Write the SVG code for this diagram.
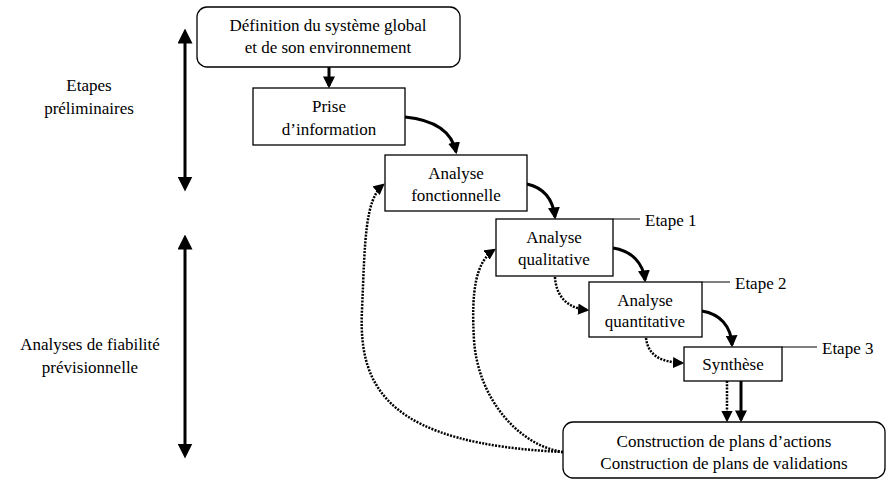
<svg xmlns="http://www.w3.org/2000/svg" width="891" height="482" viewBox="0 0 891 482">
<style>
text{font-family:'Liberation Serif','Times New Roman','DejaVu Serif',serif;font-size:17px;fill:#000;}
.c{text-anchor:middle;}
.box{fill:#fff;stroke:#000;stroke-width:1.3;}
.solid{fill:none;stroke:#000;stroke-width:3;}
.dot{fill:none;stroke:#000;stroke-width:2.5;stroke-dasharray:2 1.3;}
.thin{stroke:#000;stroke-width:1;}
</style>
<defs>
<marker id="ah" viewBox="0 0 10 10" refX="8" refY="5" markerWidth="4" markerHeight="4" orient="auto" markerUnits="strokeWidth"><path d="M0,0 L10,5 L0,10 z" fill="#000"/></marker>
<marker id="ahd" viewBox="0 0 10 10" refX="8" refY="5" markerWidth="4.5" markerHeight="4.5" orient="auto" markerUnits="strokeWidth"><path d="M0,0 L10,5 L0,10 z" fill="#000"/></marker>
<marker id="ahs" viewBox="0 0 10 10" refX="5" refY="5" markerWidth="5" markerHeight="5" orient="auto-start-reverse" markerUnits="strokeWidth"><path d="M0,0 L10,5 L0,10 z" fill="#000"/></marker>
</defs>
<g id="phases">
<line x1="185" y1="36" x2="185" y2="184" class="solid" marker-start="url(#ahs)" marker-end="url(#ahs)"/>
<text x="89" y="91" class="c">Etapes</text>
<text x="89" y="114" class="c">préliminaires</text>
<line x1="185" y1="242" x2="185" y2="451" class="solid" marker-start="url(#ahs)" marker-end="url(#ahs)"/>
<text x="90" y="350" class="c">Analyses de fiabilité</text>
<text x="90" y="373" class="c">prévisionnelle</text>
</g>
<g id="connectors">
<line x1="329" y1="67" x2="329" y2="86" class="solid" marker-end="url(#ah)"/>
<path d="M405,117 C435,120 452,132 456,152" class="solid" marker-end="url(#ah)"/>
<path d="M527,184 C545,188 553,200 555,217" class="solid" marker-end="url(#ah)"/>
<path d="M613,248 C632,251 643,263 645,280" class="solid" marker-end="url(#ah)"/>
<path d="M702,311 C720,314 731,326 732,345" class="solid" marker-end="url(#ah)"/>
<line x1="741" y1="381" x2="741" y2="420" class="solid" marker-end="url(#ah)"/>
<line x1="727" y1="381" x2="727" y2="420" class="dot" marker-end="url(#ahd)"/>
<path d="M555,277 C556,296 567,308 587,310" class="dot" marker-end="url(#ahd)"/>
<path d="M646,338 C648,355 660,362 682,363" class="dot" marker-end="url(#ahd)"/>
<path d="M563,452 C390,444 358,390 362,310 C365,240 365,200 383,185" class="dot" marker-end="url(#ahd)"/>
<path d="M563,452 C520,446 478,400 474,340 C471,290 476,262 494,250" class="dot" marker-end="url(#ahd)"/>
<line x1="613" y1="219" x2="640" y2="219" class="thin"/>
<line x1="702" y1="282" x2="730" y2="282" class="thin"/>
<line x1="782" y1="347" x2="817" y2="347" class="thin"/>
</g>
<g id="n-definition">
<rect x="197" y="7" width="263" height="60" rx="10" class="box"/>
<text x="328" y="31" class="c">Définition du système global</text>
<text x="328" y="53" class="c">et de son environnement</text>
</g>
<g id="n-prise">
<rect x="253" y="88" width="152" height="57" class="box"/>
<text x="329" y="112" class="c">Prise</text>
<text x="329" y="135" class="c">d’information</text>
</g>
<g id="n-af">
<rect x="385" y="155" width="142" height="56" class="box"/>
<text x="456" y="179" class="c">Analyse</text>
<text x="456" y="201" class="c">fonctionnelle</text>
</g>
<g id="n-aq">
<rect x="496" y="219" width="117" height="57" class="box"/>
<text x="554" y="243" class="c">Analyse</text>
<text x="554" y="265" class="c">qualitative</text>
<text x="645" y="226">Etape 1</text>
</g>
<g id="n-aqt">
<rect x="589" y="282" width="113" height="55" class="box"/>
<text x="645" y="306" class="c">Analyse</text>
<text x="645" y="327" class="c">quantitative</text>
<text x="735" y="289">Etape 2</text>
</g>
<g id="n-synth">
<rect x="684" y="347" width="98" height="34" class="box"/>
<text x="733" y="370" class="c">Synthèse</text>
<text x="822" y="354">Etape 3</text>
</g>
<g id="n-construction">
<rect x="563" y="422" width="322" height="56" rx="10" class="box"/>
<text x="724" y="447" class="c">Construction de plans d’actions</text>
<text x="724" y="469" class="c">Construction de plans de validations</text>
</g>
</svg>
